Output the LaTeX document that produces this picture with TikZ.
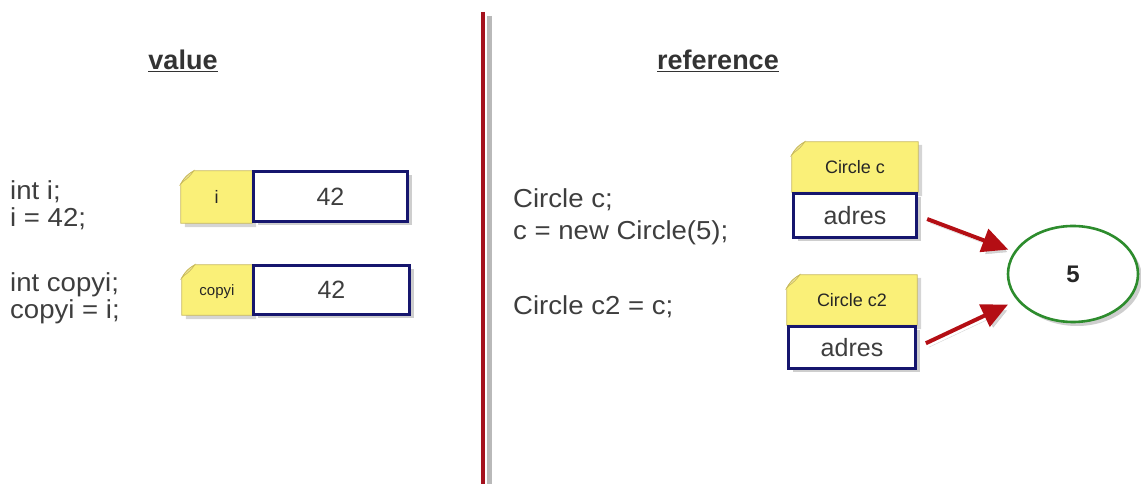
\documentclass[tikz,border=0pt]{standalone}
\usepackage{fontspec}
\setmainfont{Liberation Sans}
\newfontfamily\codefont[FakeStretch=1.06]{Liberation Sans}
\usetikzlibrary{arrows.meta,shadows,calc,backgrounds,shapes.geometric}
\definecolor{noteyellow}{RGB}{250,240,120}
\definecolor{noteline}{RGB}{200,185,90}
\definecolor{notefold}{RGB}{235,225,150}
\definecolor{navy}{RGB}{22,22,110}
\definecolor{txt}{RGB}{62,62,62}
\definecolor{redline}{RGB}{165,18,30}
\definecolor{arrred}{RGB}{180,14,20}
\definecolor{grn}{RGB}{45,140,45}
\definecolor{shad}{RGB}{185,185,185}
\newcommand\dogear[1]{%
  \begin{scope}[on background layer]
    \fill[shad,opacity=0.6] ($(#1.north west)+(4,-16)$) -- ($(#1.north west)+(17,-3)$) -- ($(#1.north east)+(4,-3)$) -- ($(#1.south east)+(4,-4)$) -- ($(#1.south west)+(4,-4)$) -- cycle;
    \filldraw[fill=noteyellow,draw=noteline,line width=0.8pt] ($(#1.north west)+(0,-13)$) to[bend left=15] ($(#1.north west)+(13,0)$) -- (#1.north east) -- (#1.south east) -- (#1.south west) -- cycle;
    \filldraw[fill=notefold,draw=noteline,line width=0.6pt] ($(#1.north west)+(0,-13)$) to[bend left=15] ($(#1.north west)+(13,0)$) to[bend left=10] ($(#1.north west)+(2,-11)$) -- cycle;
  \end{scope}}
\tikzset{
  code/.style={anchor=base west,inner sep=0pt,text=txt,font=\codefont\fontsize{26}{30}\selectfont},
  heading/.style={anchor=base,inner sep=0pt,text=black!80,font=\fontsize{27}{30}\selectfont\bfseries},
  lab/.style={inner sep=0pt,text=black!85,font=\fontsize{18}{20}\selectfont},
  valbox/.style={draw=navy,line width=2.6pt,fill=white,inner sep=0pt,text=txt,
    font=\fontsize{25}{28}\selectfont,
    drop shadow={shadow xshift=4pt,shadow yshift=-4pt,fill=shad,opacity=0.7}},
  obj/.style={ellipse,draw=grn,line width=2.6pt,fill=white,inner sep=0pt,
    font=\fontsize{24}{26}\selectfont\bfseries,text=black!85,
    drop shadow={shadow xshift=4pt,shadow yshift=-4pt,fill=shad,opacity=0.7}},
  refarrow/.style={draw=arrred,line width=4pt,-{Triangle[length=26pt,width=24pt]},
    preaction={draw=shad,opacity=0.6,transform canvas={shift={(3pt,-4pt)}}}},
}
\begin{document}
\begin{tikzpicture}[x=1pt,y=1pt]
\useasboundingbox (0,0) rectangle (1141,487);

% headings
\node[heading] (hval) at (183,417) {\underline{value}};
\node[heading] (href) at (718,417) {\underline{reference}};

% divider
\coordinate (dtop) at (483,475);
\coordinate (dbot) at (483,3);
\draw[shad,line width=5pt] ($(dtop)+(6,-4)$) -- ($(dbot)+(6,0)$);
\draw[redline,line width=4.5pt] (dtop) -- (dbot);

% left code
\node[code] (l1) at (10,287) {int i;};
\node[code] (l2) at (10,260) {i = 42;};
\node[code] (l3) at (10,195) {int copyi;};
\node[code] (l4) at (10,168) {copyi = i;};

% right code
\node[code] (r1) at (513,279) {Circle c;};
\node[code] (r2) at (513,247) {c = new Circle(5);};
\node[code] (r3) at (513,172) {Circle c2 = c;};

% value boxes
\node[lab,minimum width=71pt,minimum height=52pt] (li) at (216.5,290) {i};
\dogear{li}
\node[valbox,minimum width=154pt,minimum height=50pt] (vi) at (330.5,290.5) {42};

\node[lab,minimum width=70pt,minimum height=50pt,font=\fontsize{15}{17}\selectfont,text depth=-6pt] (lc) at (217,197) {copyi};
\dogear{lc}
\node[valbox,minimum width=156pt,minimum height=49pt] (vc) at (331.5,197) {42};

% reference boxes
\node[lab,minimum width=126pt,minimum height=50pt] (n1) at (855,320) {Circle c};
\dogear{n1}
\node[valbox,minimum width=123pt,minimum height=44pt] (a1) at (855,271.5) {adres};

\node[lab,minimum width=130pt,minimum height=50pt,text depth=-4pt] (n2) at (852,187) {Circle c2};
\dogear{n2}
\node[valbox,minimum width=127pt,minimum height=42pt] (a2) at (852,139.5) {adres};

% object
\node[obj,minimum width=130pt,minimum height=96pt] (obj) at (1073,213) {5};

% arrows
\draw[refarrow,shorten <=10pt,shorten >=6pt] (a1.east) -- (obj);
\draw[refarrow,shorten <=10pt,shorten >=10pt] (a2.east) -- (obj);
\end{tikzpicture}
\end{document}
